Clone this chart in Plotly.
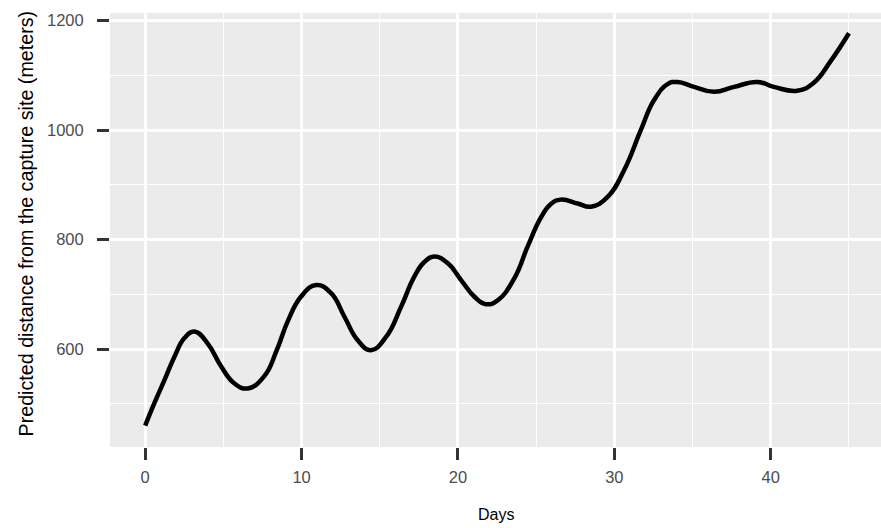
import plotly.graph_objects as go

# Predicted distance from the capture site over time
days = [0, 0.6, 1.23, 1.87, 2.51, 3.15, 4.0, 4.86, 5.71, 6.56, 7.63, 8.4,
        9.12, 9.97, 10.93, 11.89, 12.74, 13.59, 14.44, 15.4, 16.36, 17.2,
        17.85, 18.49, 19.34, 20.2, 21.04, 21.79, 22.54, 23.6, 24.45, 25.3,
        25.94, 26.58, 27.65, 28.5, 29.57, 30.63, 31.69, 32.54, 33.4, 34.04,
        35.1, 36.38, 37.66, 39.15, 40.2, 41.7, 42.77, 43.83, 45]
distance = [460, 502, 543, 586, 620, 632, 610, 568, 537, 528, 551, 597,
            651, 696, 717, 702, 659, 616, 598, 622, 677, 732,
            759, 769, 757, 726, 696, 682, 689, 729, 787, 840,
            865, 873, 866, 860, 878, 927, 1000, 1055, 1084, 1088,
            1079, 1070, 1079, 1088, 1079, 1072, 1087, 1126, 1177]

x_ticks = [0, 10, 20, 30, 40]
y_ticks = [600, 800, 1000, 1200]

x_title = "Days"
y_title = "Predicted distance from the capture site (meters)"

FONT = "Liberation Sans, Arial, sans-serif"
PANEL = "#EBEBEB"
TICK_TEXT = "#4D4D4D"

fig = go.Figure()
fig.add_trace(go.Scatter(
    x=days, y=distance, mode="lines",
    line=dict(color="black", width=4.5, shape="spline", smoothing=1.3),
    showlegend=False, hoverinfo="x+y",
))

axis_common = dict(
    showgrid=True, gridcolor="white", gridwidth=2.5,
    zeroline=False, showline=False,
    ticks="outside", ticklen=12, tickwidth=3, tickcolor="#333333",
    tickfont=dict(family=FONT, size=16.5, color=TICK_TEXT),
)

fig.update_xaxes(
    range=[-2.25, 47.05], tickmode="array", tickvals=x_ticks,
    ticktext=[str(v) for v in x_ticks],
    minor=dict(tickmode="array", tickvals=[-5, 5, 15, 25, 35, 45],
               showgrid=True, gridcolor="white", gridwidth=1.3, ticks=""),
    ticklabelstandoff=3,
    **axis_common,
)
fig.update_yaxes(
    range=[421, 1214], tickmode="array", tickvals=y_ticks,
    ticktext=[str(v) for v in y_ticks],
    minor=dict(tickmode="array", tickvals=[500, 700, 900, 1100],
               showgrid=True, gridcolor="white", gridwidth=1.3, ticks=""),
    ticklabelstandoff=10,
    **axis_common,
)

fig.add_annotation(
    text=y_title, xref="paper", yref="paper",
    x=(25 - 110) / 771, y=(447 - 223.5) / 434,
    xanchor="center", yanchor="middle", textangle=-90, showarrow=False,
    font=dict(family=FONT, size=19.7, color="black"),
)
fig.add_annotation(
    text=x_title, xref="paper", yref="paper",
    x=0.5, y=(447 - 514) / 434,
    xanchor="center", yanchor="middle", showarrow=False,
    font=dict(family=FONT, size=16, color="black"),
)

fig.update_layout(
    width=881, height=528,
    margin=dict(l=110, r=0, t=13, b=81),
    paper_bgcolor="white", plot_bgcolor=PANEL,
)

fig.write_html("out.html")
